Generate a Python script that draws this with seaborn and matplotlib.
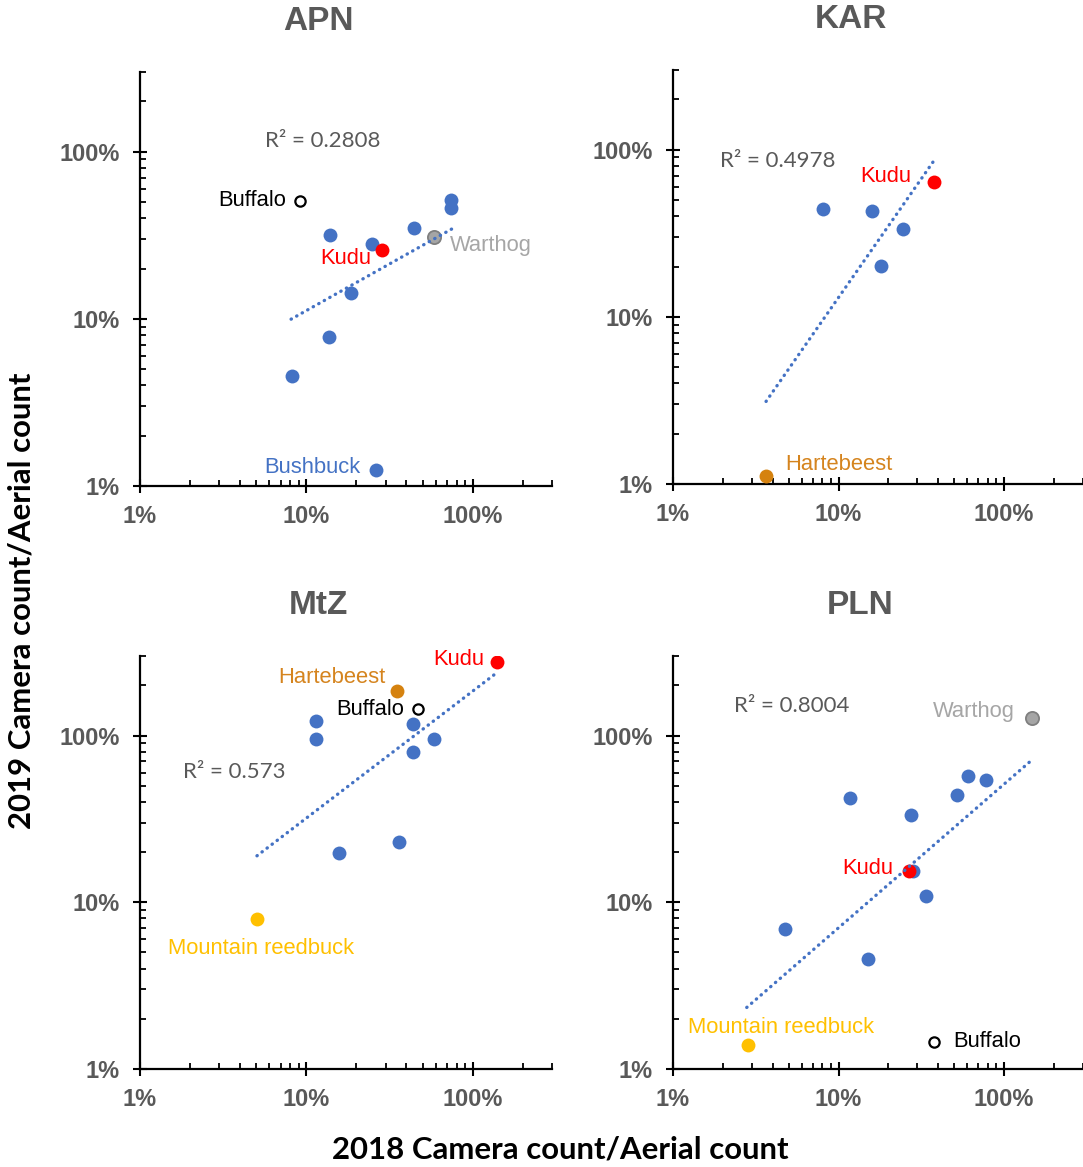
import numpy as np
import pandas as pd
import matplotlib
matplotlib.use("Agg")
import matplotlib.pyplot as plt
import seaborn as sns
from matplotlib.ticker import FixedLocator, FixedFormatter, NullFormatter

# ---------------- data (values in %) ----------------
apn_x = [13.95, 24.9, 44.3, 74.4, 74.4, 18.6, 13.6, 8.2]
apn_y = [31.8, 28.1, 35.1, 51.2, 46.1, 14.3, 7.76, 4.58]
apn_sp = ["Buffalo", "Kudu", "Warthog", "Bushbuck"]
apn_sp_x = [9.2, 28.6, 58.5, 26.3]
apn_sp_y = [51.0, 25.9, 30.8, 1.25]
apn_trend_x = [8.1, 75.3]
apn_trend_y = [9.96, 34.6]
apn_r2 = "0.2808"

kar_x = [8.05, 15.9, 24.4, 18.05]
kar_y = [44.5, 43.0, 33.7, 20.1]
kar_sp = ["Kudu", "Hartebeest"]
kar_sp_x = [37.8, 3.67]
kar_sp_y = [64.3, 1.12]
kar_trend_x = [3.65, 37.3]
kar_trend_y = [3.12, 84.7]
kar_r2 = "0.4978"

mtz_x = [11.5, 11.36, 43.5, 58.7, 43.5, 15.7, 36.3]
mtz_y = [121.9, 95.5, 117.5, 95.5, 79.4, 19.7, 22.9]
mtz_sp = ["Kudu", "Hartebeest", "Buffalo", "Mountain reedbuck"]
mtz_sp_x = [139.5, 35.0, 47.0, 5.05]
mtz_sp_y = [275.7, 184.6, 143.3, 7.92]
mtz_trend_x = [5.05, 139.5]
mtz_trend_y = [19.0, 237.8]
mtz_r2 = "0.573"

pln_x = [60.4, 78.1, 51.7, 11.7, 27.3, 28.1, 33.6, 4.78, 15.1]
pln_y = [57.0, 54.4, 44.0, 42.0, 33.5, 15.3, 10.9, 6.96, 4.58]
pln_sp = ["Warthog", "Kudu", "Mountain reedbuck", "Buffalo"]
pln_sp_x = [148.4, 26.8, 2.82, 37.5]
pln_sp_y = [127.1, 15.5, 1.39, 1.46]
pln_trend_x = [2.79, 148.4]
pln_trend_y = [2.34, 71.8]
pln_r2 = "0.8004"

tick_values = [1, 10, 100]
tick_labels = ["1%", "10%", "100%"]

# ---------------- styles ----------------
BLUE = "#4472C4"
GREY_TXT = "#595959"
sp_style = {
    "Buffalo": dict(fc="white", ec="black", s=55, lw=1.6, tc="black"),
    "Kudu": dict(fc="#FF0000", ec="#FF0000", s=100, lw=0, tc="#FF0000"),
    "Warthog": dict(fc="#A5A5A5", ec="#7F7F7F", s=90, lw=1.3, tc="#A6A6A6"),
    "Bushbuck": dict(fc=BLUE, ec=BLUE, s=100, lw=0, tc=BLUE),
    "Hartebeest": dict(fc="#D5820F", ec="#D5820F", s=100, lw=0, tc="#D5841E"),
    "Mountain reedbuck": dict(fc="#FFC000", ec="#FFC000", s=100, lw=0, tc="#FFC000"),
}

panels = [
    dict(name="APN", x=apn_x, y=apn_y, sp=apn_sp, spx=apn_sp_x, spy=apn_sp_y,
         tx=apn_trend_x, ty=apn_trend_y, r2=apn_r2,
         rect=(140, 486, 412, 414), title=(318, 22), r2pos=(0.444, 0.833),
         off={"Buffalo": (-10, 0, "right"), "Kudu": (-8, -6, "right"),
              "Warthog": (11.5, -6, "left"), "Bushbuck": (-11.5, 2, "right")}),
    dict(name="KAR", x=kar_x, y=kar_y, sp=kar_sp, spx=kar_sp_x, spy=kar_sp_y,
         tx=kar_trend_x, ty=kar_trend_y, r2=kar_r2,
         rect=(673, 484, 410, 414), title=(851, 20), r2pos=(0.256, 0.780),
         off={"Kudu": (-16.5, 4, "right"), "Hartebeest": (13.5, 8, "left")}),
    dict(name="MtZ", x=mtz_x, y=mtz_y, sp=mtz_sp, spx=mtz_sp_x, spy=mtz_sp_y,
         tx=mtz_trend_x, ty=mtz_trend_y, r2=mtz_r2,
         rect=(140, 1069, 412, 413), title=(318, 606), r2pos=(0.228, 0.719),
         off={"Kudu": (-9, 2, "right"), "Hartebeest": (-8, 10, "right"),
              "Buffalo": (-10, 0, "right"), "Mountain reedbuck": (3, -21, "center")}),
    dict(name="PLN", x=pln_x, y=pln_y, sp=pln_sp, spx=pln_sp_x, spy=pln_sp_y,
         tx=pln_trend_x, ty=pln_trend_y, r2=pln_r2,
         rect=(673, 1069, 410, 413), title=(860, 606), r2pos=(0.290, 0.879),
         off={"Warthog": (-13, 5, "right"), "Kudu": (-11.5, 1.5, "right"),
              "Mountain reedbuck": (24, 13, "center"), "Buffalo": (14, 0, "left")}),
]

sns.set_style("ticks")
plt.rcParams["font.family"] = ["Liberation Sans", "DejaVu Sans"]

W, H = 1083, 1167
fig = plt.figure(figsize=(W / 100, H / 100), dpi=100)

minor = [m * d for d in (1, 10, 100) for m in range(2, 10) if m * d <= 300]

for p in panels:
    l, b, w, h = p["rect"]
    ax = fig.add_axes([l / W, 1 - b / H, w / W, h / H])
    ax.set_xscale("log")
    ax.set_yscale("log")
    ax.set_xlim(1, 300)
    ax.set_ylim(1, 300)

    sns.scatterplot(x=p["x"], y=p["y"], ax=ax, color=BLUE, s=100,
                    edgecolor=BLUE, linewidth=0, zorder=3)
    for name, sx, sy in zip(p["sp"], p["spx"], p["spy"]):
        st = sp_style[name]
        sns.scatterplot(x=[sx], y=[sy], ax=ax, color=st["fc"], s=st["s"],
                        edgecolor=st["ec"], linewidth=st["lw"], zorder=4)
        dx, dy, ha = p["off"][name]
        ax.annotate(name, (sx, sy), xytext=(dx, dy), textcoords="offset points",
                    ha=ha, va="center", fontsize=15.8, color=st["tc"],
                    family=["Liberation Sans", "DejaVu Sans"])
    trend = pd.DataFrame({"x": p["tx"], "y": p["ty"]})
    sns.lineplot(data=trend, x="x", y="y", ax=ax, color=BLUE, linewidth=2.4,
                 linestyle=(0, (0.1, 1.8)), dash_capstyle="round", zorder=5)

    ax.text(p["r2pos"][0], p["r2pos"][1], "R² = " + p["r2"], transform=ax.transAxes,
            ha="center", va="center", fontsize=16, color=GREY_TXT,
            family=["Lato", "DejaVu Sans"])

    for axis in (ax.xaxis, ax.yaxis):
        axis.set_major_locator(FixedLocator(tick_values))
        axis.set_major_formatter(FixedFormatter(tick_labels))
        axis.set_minor_locator(FixedLocator(minor))
        axis.set_minor_formatter(NullFormatter())
    ax.set_xlabel("")
    ax.set_ylabel("")
    for s in ("top", "right"):
        ax.spines[s].set_visible(False)
    for s in ("left", "bottom"):
        ax.spines[s].set_linewidth(1.6)
        ax.spines[s].set_color("black")
    ax.tick_params(which="major", direction="inout", length=9.5, width=1.5,
                   color="black", labelcolor=GREY_TXT, labelsize=17)
    ax.tick_params(axis="y", which="major", pad=10)
    ax.tick_params(axis="x", which="major", pad=9)
    ax.tick_params(which="minor", direction="in", length=4, width=1.3, color="black")
    for lab in ax.get_xticklabels() + ax.get_yticklabels():
        lab.set_fontweight("bold")

    fig.text(p["title"][0] / W, 1 - p["title"][1] / H, p["name"], ha="center",
             va="center", fontsize=24, fontweight="bold", color=GREY_TXT)

fig.text(22 / W, 1 - 601 / H, "2019 Camera count/Aerial count", rotation=90,
         ha="center", va="center", fontsize=22.4, fontweight="bold", color="black",
         family=["Lato", "DejaVu Sans"])
fig.text(560 / W, 1 - 1150 / H, "2018 Camera count/Aerial count",
         ha="center", va="center", fontsize=22.4, fontweight="bold", color="black",
         family=["Lato", "DejaVu Sans"])

fig.savefig("out.png", dpi=100, facecolor="white")
